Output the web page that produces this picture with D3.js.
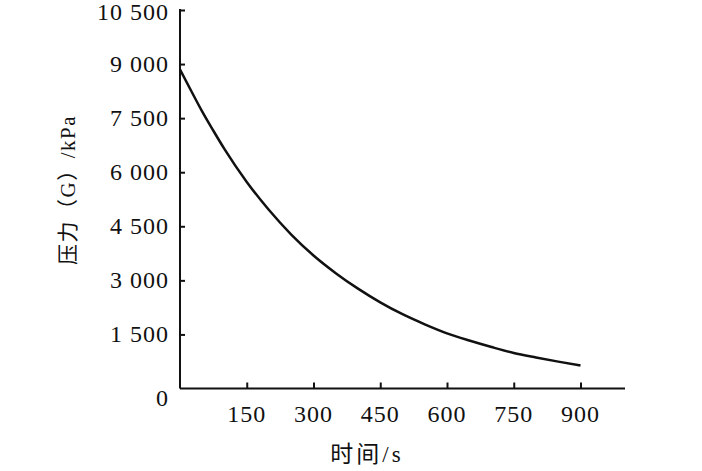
<!DOCTYPE html>
<html>
<head>
<meta charset="utf-8">
<script src="https://cdn.jsdelivr.net/npm/d3@7"></script>
<style>
  html, body { margin: 0; padding: 0; background: #fff; }
  svg { display: block; }
  text { font-family: "Liberation Serif", "Noto Sans CJK SC", serif; fill: #111; }
</style>
</head>
<body>
<svg id="chart" width="702" height="471"></svg>
<script>
// ---- data ----
const timeSeconds = [0, 25, 50, 75, 100, 150, 200, 250, 300, 350, 400, 450, 500, 550, 600, 650, 700, 750, 800, 850, 900];
const pressureKPa = [8850, 8260, 7680, 7150, 6640, 5730, 4950, 4270, 3690, 3200, 2770, 2390, 2060, 1780, 1530, 1330, 1150, 985, 860, 745, 640];
const xTickValues = [150, 300, 450, 600, 750, 900];
const yTickValues = [0, 1500, 3000, 4500, 6000, 7500, 9000, 10500];
const yTickLabels = ["0", "1 500", "3 000", "4 500", "6 000", "7 500", "9 000", "10 500"];
const xTitle = "时间/s";
const yTitle = "压力（G）/kPa";

const svg = d3.select("#chart");
const x = d3.scaleLinear().domain([0, 1000]).range([180, 625]);
const y = d3.scaleLinear().domain([0, 10500]).range([388.5, 10]);

const ink = "#111";

// x axis
const xAxis = svg.append("g").attr("transform", `translate(0,${y(0)})`)
  .call(d3.axisTop(x).tickValues(xTickValues).tickSize(6).tickFormat(""));
xAxis.select(".domain").attr("d", `M${x(0)},0H${x(1000)}`).attr("stroke", ink).attr("stroke-width", 2);
xAxis.selectAll(".tick line").attr("stroke", ink).attr("stroke-width", 2);

svg.append("g").selectAll("text").data(xTickValues).join("text")
  .attr("x", d => x(d))
  .attr("y", y(0) + 33)
  .attr("text-anchor", "middle")
  .attr("font-size", 24)
  .attr("letter-spacing", 1)
  .text(d => String(d));

// y axis
const yAxis = svg.append("g").attr("transform", `translate(${x(0)},0)`)
  .call(d3.axisRight(y).tickValues(yTickValues.slice(1)).tickSize(5).tickFormat(""));
yAxis.select(".domain").attr("d", `M0,${y(10500) - 1}V${y(0)}`).attr("stroke", ink).attr("stroke-width", 2);
yAxis.selectAll(".tick line").attr("stroke", ink).attr("stroke-width", 2);

svg.append("g").selectAll("text").data(yTickValues).join("text")
  .attr("x", x(0) - 11)
  .attr("y", d => y(d) + (d === 0 ? 17 : d === 10500 ? 10 : 8))
  .attr("text-anchor", "end")
  .attr("font-size", 24)
  .attr("letter-spacing", 1)
  .text((d, i) => yTickLabels[i]);

// curve
const line = d3.line()
  .x((d, i) => x(timeSeconds[i]))
  .y(d => y(d))
  .curve(d3.curveMonotoneX);
svg.append("path")
  .datum(pressureKPa)
  .attr("d", line)
  .attr("fill", "none")
  .attr("stroke", ink)
  .attr("stroke-width", 2.5);

// titles
svg.append("text")
  .attr("x", 367)
  .attr("y", 462)
  .attr("text-anchor", "middle")
  .attr("font-size", 23)
  .attr("letter-spacing", 3)
  .text(xTitle);

svg.append("text")
  .attr("transform", "translate(75,190) rotate(-90)")
  .attr("text-anchor", "middle")
  .attr("font-size", 21)
  .attr("letter-spacing", 1.5)
  .text(yTitle);
</script>
</body>
</html>
